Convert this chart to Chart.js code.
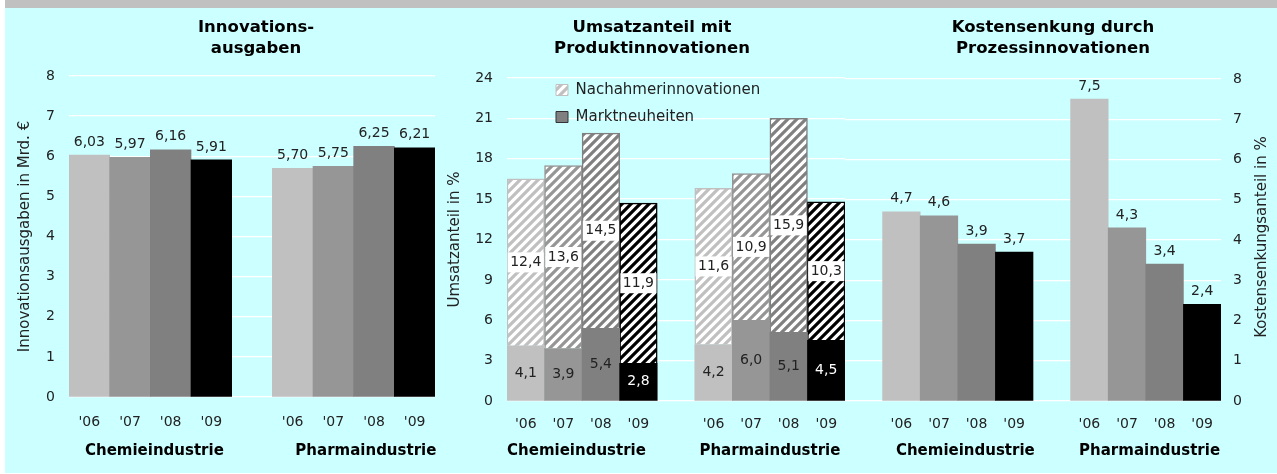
<!DOCTYPE html>
<html><head><meta charset="utf-8">
<script src="https://cdn.jsdelivr.net/npm/chart.js@4/dist/chart.umd.min.js"></script>
<style>
html,body{margin:0;padding:0;background:#fff;width:1277px;height:474px;overflow:hidden}
#bg{position:absolute;left:5px;top:0;width:1272px;height:473px;background:#ccffff}
#band{position:absolute;left:5px;top:0;width:1272px;height:8px;background:#c0c0c0}
canvas{position:absolute;top:8px}
</style></head><body>
<div id="bg"></div><div id="band"></div>
<canvas id="c1" width="502" height="465" style="left:5px"></canvas>
<canvas id="c2" width="424" height="465" style="left:440px"></canvas>
<canvas id="c3" width="448" height="465" style="left:829px"></canvas>
<script>
// ---- data ----
const years = ["'06", "'07", "'08", "'09"];
const groups = ["Chemieindustrie", "Pharmaindustrie"];
const innovChemie = [6.03, 5.97, 6.16, 5.91];
const innovPharma = [5.70, 5.75, 6.25, 6.21];
const marktChemie = [4.1, 3.9, 5.4, 2.8];
const marktPharma = [4.2, 6.0, 5.1, 4.5];
const nachahmerChemie = [12.4, 13.6, 14.5, 11.9];
const nachahmerPharma = [11.6, 10.9, 15.9, 10.3];
const kostenChemie = [4.7, 4.6, 3.9, 3.7];
const kostenPharma = [7.5, 4.3, 3.4, 2.4];
const seriesNames = ["Marktneuheiten", "Nachahmerinnovationen"];
const title1 = ["Innovations-", "ausgaben"];
const title2 = ["Umsatzanteil mit", "Produktinnovationen"];
const title3 = ["Kostensenkung durch", "Prozessinnovationen"];
const yTitle1 = "Innovationsausgaben in Mrd. €";
const yTitle2 = "Umsatzanteil in %";
const yTitle3 = "Kostensenkungsanteil in %";

// ---- styles ----
const FONT = "'DejaVu Sans', Verdana, sans-serif";
Chart.defaults.font.family = FONT;
Chart.defaults.color = '#222';
const yearColors = ['#c0c0c0', '#969696', '#808080', '#000000'];
const labelTextColors = ['#222', '#222', '#222', '#ffffff'];

function hatch(color) {
  const s = 9;
  const c = document.createElement('canvas'); c.width = s; c.height = s;
  const g = c.getContext('2d');
  g.fillStyle = '#ffffff'; g.fillRect(0, 0, s, s);
  g.strokeStyle = color; g.lineWidth = 3.2;
  g.beginPath();
  for (const k of [-1, 0, 1]) { g.moveTo(-2, s + k * s + 2); g.lineTo(s + 2, k * s - 2); }
  g.stroke();
  return g.createPattern(c, 'repeat');
}
const hatchColors = yearColors.map(hatch);

const withGap = (lead, a, b, gap) => lead ? [gap, ...a, gap, ...b] : [...a, gap, ...b];
const fmt = (v, d) => v.toFixed(d).replace('.', ',');

// ---- value label plugin (reads bar elements placed by the library) ----
const valueLabels = {
  id: 'valueLabels',
  afterDatasetsDraw(chart) {
    const ctx = chart.ctx;
    chart.data.datasets.forEach((ds, di) => {
      const cfg = ds.valueLabel; if (!cfg) return;
      const meta = chart.getDatasetMeta(di);
      meta.data.forEach((bar, i) => {
        const v = ds.data[i]; if (v == null) return;
        const txt = fmt(v, cfg.decimals);
        ctx.save();
        ctx.font = '14px ' + FONT;
        ctx.textAlign = 'center'; ctx.textBaseline = 'middle';
        const y = cfg.mode === 'top' ? bar.y - cfg.offset : (bar.y + bar.base) / 2;
        if (cfg.box) {
          const w = ctx.measureText(txt).width + 5;
          ctx.fillStyle = '#ffffff';
          ctx.fillRect(bar.x - w / 2, y - 10, w, 20);
        }
        ctx.fillStyle = cfg.colors ? cfg.colors[i] : '#222';
        ctx.fillText(txt, bar.x, y);
        ctx.restore();
      });
    });
  }
};

// ---- scale builders ----
function xMain(pad, height, stacked) {
  return { type: 'category', position: 'bottom', stacked: !!stacked, weight: 0,
    grid: { display: false, drawTicks: false }, border: { display: false },
    ticks: { padding: pad, autoSkip: false, maxRotation: 0, font: { size: 14 }, color: '#222' },
    afterFit(s) { s.height = height; } };
}
function xGroup(max, pos, pad, height) {
  return { type: 'linear', position: 'bottom', min: 0, max, weight: 1, offset: false,
    grid: { display: false, drawTicks: false, offset: false }, border: { display: false },
    afterBuildTicks(s) { s.ticks = pos.map(v => ({ value: v })); },
    ticks: { padding: pad, autoSkip: false, maxRotation: 0, font: { size: 15, weight: 'bold' }, color: '#000',
      callback: (v, i) => groups[i] },
    afterFit(s) { s.height = height; } };
}
function yAxis(position, max, step, width, tickPad, title, titlePad, stacked) {
  return { type: 'linear', position, min: 0, max, stacked: !!stacked,
    ticks: { stepSize: step, padding: tickPad, font: { size: 14 }, color: '#222' },
    grid: { color: '#ffffff', lineWidth: 1.3, drawTicks: false }, border: { display: false },
    title: title ? { display: true, text: title, font: { size: 15 }, color: '#222', padding: { top: titlePad, bottom: 0 } } : { display: false },
    afterFit(s) { s.width = width; } };
}
function dummy(position, width) {
  return { type: 'linear', position, min: 0, max: 1, display: true,
    grid: { display: false, drawTicks: false }, border: { display: false }, ticks: { display: false },
    afterFit(s) { s.width = width; } };
}
function titleOpts(text, bottom) {
  return { display: true, text, color: '#000', fullSize: true,
    font: { size: 16.5, weight: 'bold', lineHeight: '21px' }, padding: { top: 9.5, bottom } };
}
const common = { responsive: false, animation: false, devicePixelRatio: 1, events: [],
  layout: { padding: 0 } };

// ---- Chart 1: Innovationsausgaben ----
new Chart(document.getElementById('c1'), {
  type: 'bar',
  data: {
    labels: withGap(false, years, years, ''),
    datasets: [{
      data: withGap(false, innovChemie, innovPharma, null),
      backgroundColor: withGap(false, yearColors, yearColors, 'transparent'),
      borderWidth: 0, barPercentage: 1, categoryPercentage: 1,
      xAxisID: 'x', yAxisID: 'y',
      valueLabel: { mode: 'top', decimals: 2, offset: 13 }
    }]
  },
  options: { ...common,
    scales: {
      x: xMain(16.6, 40),
      grp: xGroup(9, [2.1, 7.3], 5, 36),
      y: yAxis('left', 8, 1, 64, 14, yTitle1, 11),
      d: dummy('right', 72)
    },
    plugins: { legend: { display: false }, tooltip: { enabled: false }, title: titleOpts(title1, 16.5) }
  },
  plugins: [valueLabels]
});

// ---- Chart 2: Umsatzanteil (stacked) ----
const legendStyles = [
  { fillStyle: '#808080', strokeStyle: '#333333', lineWidth: 1 },
  { fillStyle: hatchColors[0], strokeStyle: '#c0c0c0', lineWidth: 1 }
];
new Chart(document.getElementById('c2'), {
  type: 'bar',
  data: {
    labels: withGap(false, years, years, ''),
    datasets: [{
      label: seriesNames[0],
      data: withGap(false, marktChemie, marktPharma, null),
      backgroundColor: withGap(false, yearColors, yearColors, 'transparent'),
      borderWidth: 0, barPercentage: 1, categoryPercentage: 1,
      xAxisID: 'x', yAxisID: 'y',
      valueLabel: { mode: 'center', decimals: 1, colors: withGap(false, labelTextColors, labelTextColors, '#222') }
    }, {
      label: seriesNames[1],
      data: withGap(false, nachahmerChemie, nachahmerPharma, null),
      backgroundColor: withGap(false, hatchColors, hatchColors, 'transparent'),
      borderColor: withGap(false, yearColors, yearColors, 'transparent'),
      borderWidth: 1.5, borderSkipped: 'start', barPercentage: 1, categoryPercentage: 1,
      xAxisID: 'x', yAxisID: 'y',
      valueLabel: { mode: 'center', decimals: 1, box: true }
    }]
  },
  options: { ...common,
    scales: {
      x: xMain(14.6, 36, true),
      grp: xGroup(9, [1.85, 7.0], 4.7, 36),
      y: yAxis('left', 24, 3, 67, 14, yTitle2, 6, true),
      d: dummy('right', 19)
    },
    plugins: {
      tooltip: { enabled: false },
      title: titleOpts(title2, 18.5),
      legend: { display: true, position: 'chartArea', align: 'start', reverse: true,
        labels: { boxWidth: 12, boxHeight: 11, padding: 12, font: { size: 15 }, color: '#222',
          generateLabels(chart) {
            const items = Chart.defaults.plugins.legend.labels.generateLabels(chart);
            items.forEach(it => Object.assign(it, legendStyles[it.datasetIndex]));
            return items;
          } } }
    }
  },
  plugins: [valueLabels, {
    id: 'legendShift',
    afterLayout(chart) {
      const l = chart.legend, a = chart.chartArea; if (!l) return;
      const w = l.right - l.left, h = l.bottom - l.top;
      l.left = a.left + 37; l.right = l.left + w;
      l.top = a.top - 7.5; l.bottom = l.top + h;
    }
  }]
});

// ---- Chart 3: Kostensenkung ----
new Chart(document.getElementById('c3'), {
  type: 'bar',
  data: {
    labels: withGap(true, years, years, ''),
    datasets: [{
      data: withGap(true, kostenChemie, kostenPharma, null),
      backgroundColor: withGap(true, yearColors, yearColors, 'transparent'),
      borderWidth: 0, barPercentage: 1, categoryPercentage: 1,
      xAxisID: 'x', yAxisID: 'y',
      valueLabel: { mode: 'top', decimals: 1, offset: 13 }
    }]
  },
  options: { ...common,
    scales: {
      x: xMain(14.9, 36),
      grp: xGroup(10, [3.2, 8.1], 4.7, 36),
      y: yAxis('right', 8, 1, 56, 12, null, 0),
      d: dummy('left', 16)
    },
    plugins: { legend: { display: false }, tooltip: { enabled: false }, title: titleOpts(title3, 19.5) }
  },
  plugins: [valueLabels, {
    id: 'rightTitle',
    afterDraw(chart) {
      const s = chart.scales.y, ctx = chart.ctx;
      ctx.save();
      ctx.translate(s.right - 15, (s.top + s.bottom) / 2 - 3);
      ctx.rotate(-Math.PI / 2);
      ctx.font = '15px ' + FONT; ctx.fillStyle = '#222';
      ctx.textAlign = 'center'; ctx.textBaseline = 'middle';
      ctx.fillText(yTitle3, 0, 0);
      ctx.restore();
    }
  }]
});
</script>
</body></html>
